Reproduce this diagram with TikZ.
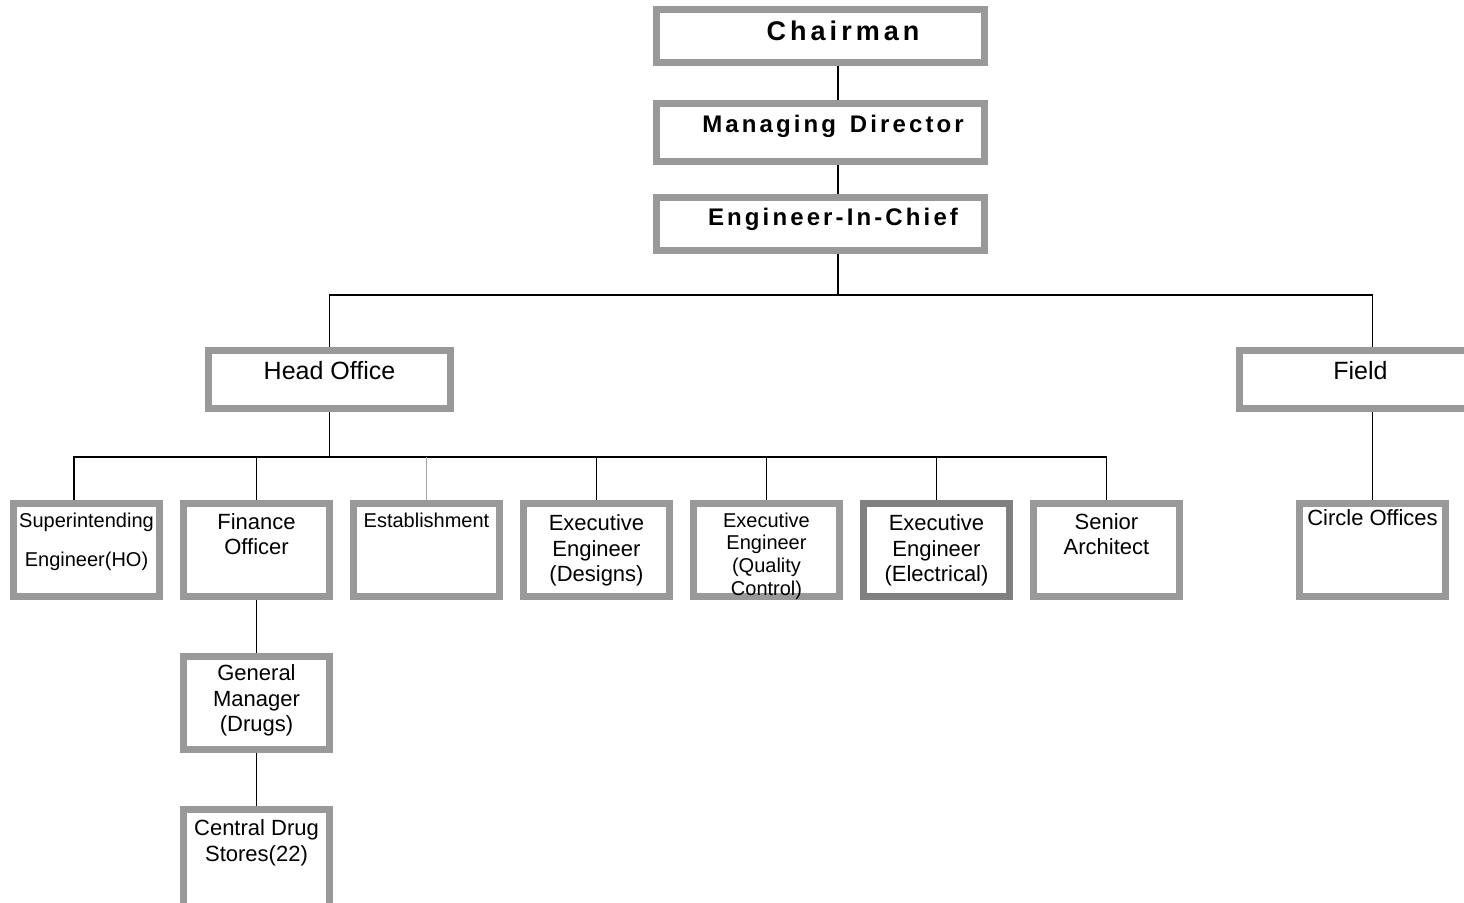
\documentclass[tikz,border=0pt]{standalone}
\usepackage{fontspec}
\setmainfont{Liberation Sans}
\usetikzlibrary{positioning}
\definecolor{boxgray}{HTML}{999999}
\definecolor{elecgray}{HTML}{808080}
\definecolor{linkgray}{HTML}{A6A6A6}
\newcommand{\boxtext}[3]{\parbox[c][#1][t]{#2}{\centering #3}}
\tikzset{
    unit/.style={
           rectangle,
           draw=boxgray, line width=7pt,
           inner sep=0pt,
           minimum width=146pt,
           minimum height=93pt,
           font=\fontsize{22}{25.5}\selectfont,
           },
    small/.style={font=\fontsize{20}{23}\selectfont},
    head/.style={
           unit,
           minimum width=328pt,
           minimum height=53pt,
           font=\fontsize{24}{28}\selectfont\bfseries\addfontfeature{LetterSpace=13},
           },
    office/.style={
           unit,
           minimum width=242pt,
           minimum height=58pt,
           font=\fontsize{25}{29}\selectfont,
           },
    link/.style={draw=black, line width=1.5pt},
}
\begin{document}
\begin{tikzpicture}[x=1pt,y=-1pt]
  \path[use as bounding box, clip] (0,0) rectangle (1464,902);
  \node[head,
 font=\fontsize{27}{31}\selectfont\bfseries\addfontfeature{LetterSpace=15}] (chair)
 at (820.5,36) {\boxtext{30pt}{328pt}{\hspace*{45pt}Chairman}};
  \node[head,
 minimum height=58pt,
 below=34pt of chair] (md)
 {\boxtext{35pt}{328pt}{\hspace*{25pt}Managing\hspace{4pt} Director}};
  \node[head,
 below=29pt of md] (eic)
 {\boxtext{32pt}{328pt}{\hspace*{25pt}Engineer-In-Chief}};
  \node[office] (ho) at (329.5,379.5) {\boxtext{36pt}{242pt}{Head Office}};
  \node[office] (field) at (1360.5,379.5) {\boxtext{36pt}{242pt}{Field}};
  % head office row
  \node[unit, small] (se) at (86.5,550)
 {\boxtext{73pt}{146pt}{Superintending\\[16pt]Engineer(HO)}};
  \node[unit, right=17pt of se] (fo)
 {\boxtext{73pt}{146pt}{Finance\\Officer}};
  \node[unit, small, right=17pt of fo] (est)
 {\boxtext{73pt}{146pt}{Establishment}};
  \node[unit, right=17pt of est] (ed)
 {\boxtext{70pt}{146pt}{Executive\\Engineer\\(Designs)}};
  \node[unit, small, right=17pt of ed] (eq)
 {\boxtext{75pt}{146pt}{Executive\\Engineer\\(Quality\\Control)}};
  \node[unit, draw=elecgray, right=17pt of eq] (ee)
 {\boxtext{70pt}{146pt}{Executive\\Engineer\\(Electrical)}};
  \node[unit, right=17pt of ee] (sa)
 {\boxtext{73pt}{146pt}{Senior\\Architect}};
  \node[unit] (co) at (1372.5,550)
 {\boxtext{80pt}{146pt}{Circle Offices}};
  \node[unit, below=53pt of fo] (gm)
 {\boxtext{76pt}{146pt}{General\\Manager\\(Drugs)}};
  \node[unit, minimum height=105pt, below=53pt of gm] (cds)
 {\boxtext{84pt}{146pt}{Central Drug\\Stores(22)}};
  \coordinate (trunk) at (838,295);
  \coordinate (hobus) at (74,457);
  \draw[link] (chair.south -| trunk) -- (md.north -| trunk);
  \draw[link] (md.south -| trunk) -- (eic.north -| trunk);
  \draw[link] (eic.south -| trunk) -- (trunk);
  \draw[link] (ho.north) |- (trunk) -| (co.north |- field.north);
  \draw[link] (ho.south) -- (ho.south |- hobus);
  \draw[link] (hobus |- se.north) -- (hobus) -- (hobus -| sa.north);
  \foreach \n in {fo,ed,eq,ee,sa}
    \draw[link] (\n.north |- hobus) -- (\n.north);
  \draw[link, draw=linkgray] (est.north |- hobus) -- (est.north);
  \draw[link] (co.north |- field.south) -- (co.north);
  \draw[link] (fo) -- (gm);
  \draw[link] (gm) -- (cds);
\end{tikzpicture}
\end{document}
